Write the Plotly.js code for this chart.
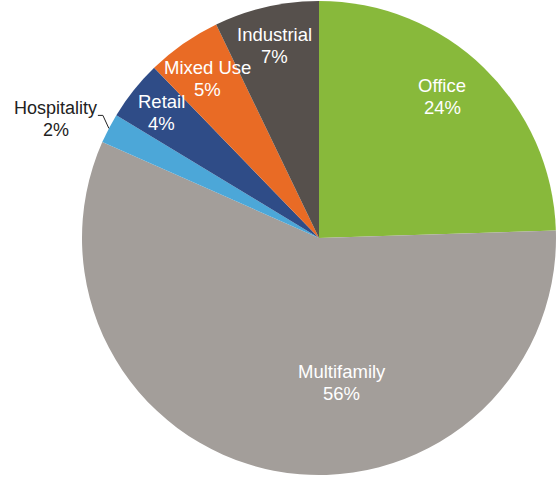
<!DOCTYPE html>
<html>
<head>
<meta charset="utf-8">
<script src="https://cdn.plot.ly/plotly-3.0.1.min.js"></script>
<style>
  html, body { margin: 0; padding: 0; background: #ffffff; }
  #chart { width: 556px; height: 478px; }
</style>
</head>
<body>
<div id="chart"></div>
<script>
// ---- data ----
const categories = ["Office", "Multifamily", "Hospitality", "Retail", "Mixed Use", "Industrial"];
const shares = [24, 56, 2, 4, 5, 7];

// ---- style ----
const sliceColors = ["#88b93b", "#a39e9a", "#4ca7d8", "#2f4c87", "#e96b25", "#56504c"];
const labelColors = ["#ffffff", "#ffffff", "#222222", "#ffffff", "#ffffff", "#ffffff"];
const labelSizes = [18.5, 18.5, 18, 18.5, 18.5, 18.5];
const labelRadius = [0.79, 0.617, 0, 0.85, 0.82, 0.835];
const labelAngleShift = [-3, -20, 0, 0, 0, 0];
const lineGap = 22;
const outsideIndex = 2;

const W = 556, H = 478;
const cxPx = 319, cyPx = 238, rPx = 237;

const total = shares.reduce((a, b) => a + b, 0);
const toPaper = (px, py) => [px / W, 1 - py / H];
const polar = (deg, r) => {
  const t = deg * Math.PI / 180;
  return [cxPx + r * Math.sin(t), cyPx - r * Math.cos(t)];
};

const annotations = [];
const shapes = [];

function addLabel(cx, cy, i, v) {
  const font = { family: "Liberation Sans, Arial, sans-serif", size: labelSizes[i], color: labelColors[i] };
  const lines = [categories[i], v + "%"];
  lines.forEach((t, k) => {
    const p = toPaper(cx, cy + (k - 0.5) * lineGap);
    annotations.push({
      text: t, xref: "paper", yref: "paper", x: p[0], y: p[1],
      xanchor: "center", yanchor: "middle", showarrow: false, font: font
    });
  });
}

let cum = 0;
shares.forEach((v, i) => {
  const a0 = cum / total * 360;
  cum += v;
  const a1 = cum / total * 360;
  const mid = (a0 + a1) / 2;
  if (i === outsideIndex) {
    const edge = polar(mid, rPx);
    const elbow = [edge[0] - 6, edge[1] - 13];
    const end = [elbow[0] - 5, elbow[1]];
    const pe = toPaper(...edge), pb = toPaper(...elbow), pn = toPaper(...end);
    shapes.push({
      type: "path", xref: "paper", yref: "paper",
      path: `M ${pe[0]},${pe[1]} L ${pb[0]},${pb[1]} L ${pn[0]},${pn[1]}`,
      line: { color: "#222222", width: 1 }
    });
    // label block sits to the left of the leader line end
    addLabel(end[0] - 42, end[1] + 4, i, v);
  } else {
    const p = polar(mid + labelAngleShift[i], rPx * labelRadius[i]);
    addLabel(p[0], p[1], i, v);
  }
});

const dom = {
  x: [(cxPx - rPx) / W, (cxPx + rPx) / W],
  y: [1 - (cyPx + rPx) / H, 1 - (cyPx - rPx) / H]
};

const trace = {
  type: "pie",
  labels: categories,
  values: shares,
  sort: false,
  direction: "clockwise",
  rotation: 0,
  textinfo: "none",
  hoverinfo: "none",
  marker: { colors: sliceColors, line: { width: 0 } },
  domain: dom,
  showlegend: false
};

const layout = {
  width: W, height: H,
  margin: { l: 0, r: 0, t: 0, b: 0 },
  paper_bgcolor: "#ffffff",
  plot_bgcolor: "#ffffff",
  showlegend: false,
  annotations: annotations,
  shapes: shapes
};

Plotly.newPlot("chart", [trace], layout, { displayModeBar: false, staticPlot: true });
</script>
</body>
</html>
